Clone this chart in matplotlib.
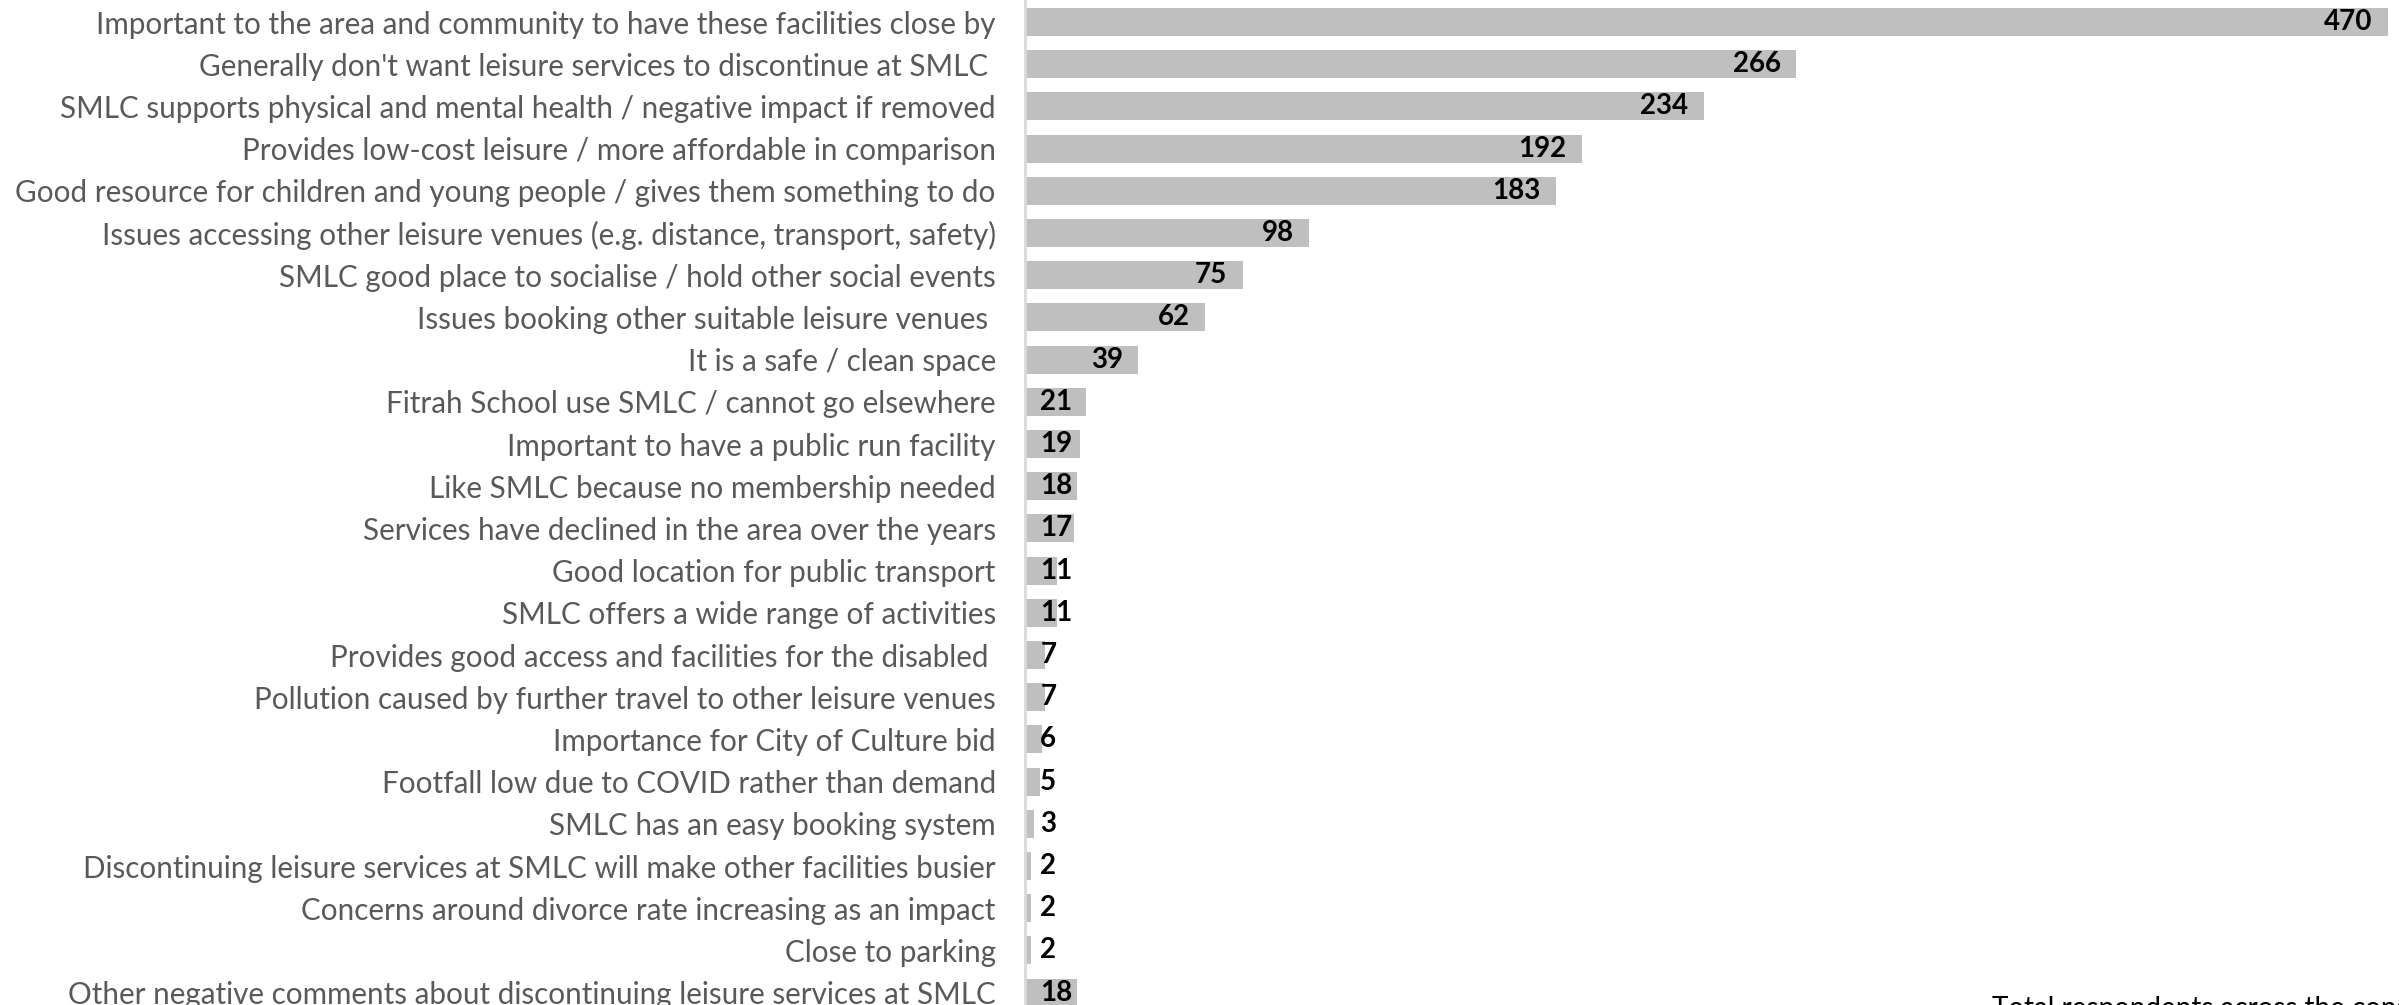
import matplotlib
matplotlib.use("Agg")
import matplotlib.pyplot as plt

categories = [
    "Important to the area and community to have these facilities close by",
    "Generally don't want leisure services to discontinue at SMLC ",
    "SMLC supports physical and mental health / negative impact if removed",
    "Provides low-cost leisure / more affordable in comparison",
    "Good resource for children and young people / gives them something to do",
    "Issues accessing other leisure venues (e.g. distance, transport, safety)",
    "SMLC good place to socialise / hold other social events",
    "Issues booking other suitable leisure venues ",
    "It is a safe / clean space",
    "Fitrah School use SMLC / cannot go elsewhere",
    "Important to have a public run facility",
    "Like SMLC because no membership needed",
    "Services have declined in the area over the years",
    "Good location for public transport",
    "SMLC offers a wide range of activities",
    "Provides good access and facilities for the disabled ",
    "Pollution caused by further travel to other leisure venues",
    "Importance for City of Culture bid",
    "Footfall low due to COVID rather than demand",
    "SMLC has an easy booking system",
    "Discontinuing leisure services at SMLC will make other facilities busier",
    "Concerns around divorce rate increasing as an impact",
    "Close to parking",
    "Other negative comments about discontinuing leisure services at SMLC",
]
values = [470, 266, 234, 192, 183, 98, 75, 62, 39, 21, 19, 18, 17, 11, 11, 7, 7, 6, 5, 3, 2, 2, 2, 18]
footnote = "Total respondents across the consultation"

plt.rcParams["font.family"] = ["Lato", "DejaVu Sans"]

W, H = 2399, 1005
fig = plt.figure(figsize=(W / 100, H / 100), dpi=100)
left_px, right_px = 1025, 2399
top_px, bot_px = 0.9, 1013.7
ax = fig.add_axes([left_px / W, 1 - bot_px / H, (right_px - left_px) / W, (bot_px - top_px) / H])

n = len(categories)
ypos = list(range(n))
ax.barh(ypos, values, height=0.66, color="#bfbfbf", zorder=2)
ax.set_ylim(n - 0.5, -0.5)
ax.set_xlim(0, (right_px - left_px) / 2.9)

ax.set_yticks(ypos)
ax.set_yticklabels(categories, fontsize=21.3, color="#595959")
ax.tick_params(axis="y", length=0, pad=21)
ax.set_xticks([])
for s in ["top", "right", "bottom"]:
    ax.spines[s].set_visible(False)
ax.spines["left"].set_color("#d9d9d9")
ax.spines["left"].set_linewidth(2)
ax.spines["left"].set_zorder(3)

for y, v in zip(ypos, values):
    if v >= 30:
        ax.annotate(str(v), xy=(v, y), xytext=(-11, 0), textcoords="offset points",
                    ha="right", va="center", fontsize=20, fontweight="bold", color="black")
    else:
        ax.annotate(str(v), xy=(0, y), xytext=(11, 0), textcoords="offset points",
                    ha="left", va="center", fontsize=20, fontweight="bold", color="black")

fig.text(1992 / W, 1 - 996 / H, footnote, ha="left", va="top", fontsize=20, color="black")

fig.savefig("out.png", dpi=100)
